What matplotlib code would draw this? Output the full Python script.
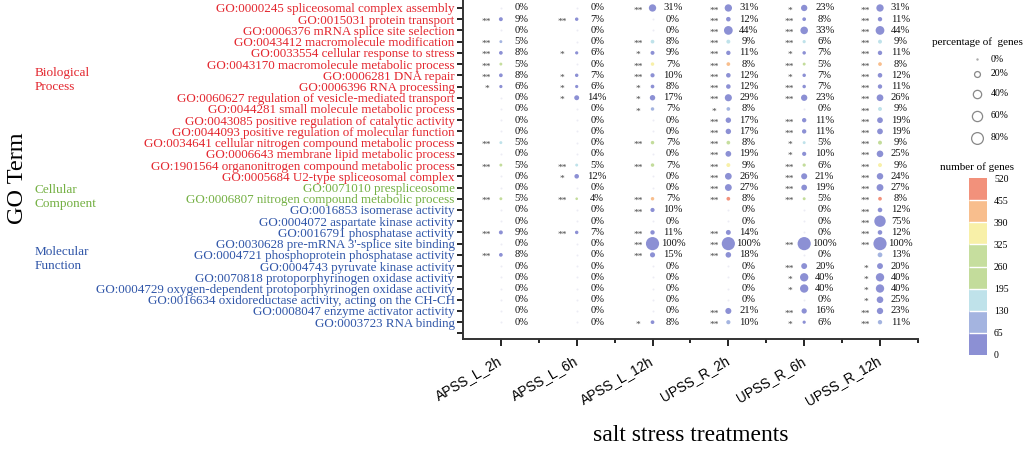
import numpy as np
import matplotlib
matplotlib.use('Agg')
import matplotlib.pyplot as plt
import matplotlib as mpl
from matplotlib.colors import ListedColormap, BoundaryNorm

plt.rcParams['font.family'] = ['Liberation Serif', 'DejaVu Serif']

treatments = ['APSS_L_2h', 'APSS_L_6h', 'APSS_L_12h', 'UPSS_R_2h', 'UPSS_R_6h', 'UPSS_R_12h']

terms = [
    'GO:0000245 spliceosomal complex assembly',
    'GO:0015031 protein transport',
    'GO:0006376 mRNA splice site selection',
    'GO:0043412 macromolecule modification',
    'GO:0033554 cellular response to stress',
    'GO:0043170 macromolecule metabolic process',
    'GO:0006281 DNA repair',
    'GO:0006396 RNA processing',
    'GO:0060627 regulation of vesicle-mediated transport',
    'GO:0044281 small molecule metabolic process',
    'GO:0043085 positive regulation of catalytic activity',
    'GO:0044093 positive regulation of molecular function',
    'GO:0034641 cellular nitrogen compound metabolic process',
    'GO:0006643 membrane lipid metabolic process',
    'GO:1901564 organonitrogen compound metabolic process',
    'GO:0005684 U2-type spliceosomal complex',
    'GO:0071010 prespliceosome',
    'GO:0006807 nitrogen compound metabolic process',
    'GO:0016853 isomerase activity',
    'GO:0004072 aspartate kinase activity',
    'GO:0016791 phosphatase activity',
    "GO:0030628 pre-mRNA 3'-splice site binding",
    'GO:0004721 phosphoprotein phosphatase activity',
    'GO:0004743 pyruvate kinase activity',
    'GO:0070818 protoporphyrinogen oxidase activity',
    'GO:0004729 oxygen-dependent protoporphyrinogen oxidase activity',
    'GO:0016634 oxidoreductase activity, acting on the CH-CH',
    'GO:0008047 enzyme activator activity',
    'GO:0003723 RNA binding',
]
term_group = ['BP'] * 16 + ['CC'] * 2 + ['MF'] * 11
group_names = {'BP': 'Biological\nProcess', 'CC': 'Cellular\nComponent', 'MF': 'Molecular\nFunction'}
group_colors = {'BP': '#e3262e', 'CC': '#74b043', 'MF': '#2f55a8'}

# percentage of genes per term (rows) and treatment (columns)
pct = [
    [0, 0, 31, 31, 23, 31],
    [9, 7, 0, 12, 8, 11],
    [0, 0, 0, 44, 33, 44],
    [5, 0, 8, 9, 6, 9],
    [8, 6, 9, 11, 7, 11],
    [5, 0, 7, 8, 5, 8],
    [8, 7, 10, 12, 7, 12],
    [6, 6, 8, 12, 7, 11],
    [0, 14, 17, 29, 23, 26],
    [0, 0, 7, 8, 0, 9],
    [0, 0, 0, 17, 11, 19],
    [0, 0, 0, 17, 11, 19],
    [5, 0, 7, 8, 5, 9],
    [0, 0, 0, 19, 10, 25],
    [5, 5, 7, 9, 6, 9],
    [0, 12, 0, 26, 21, 24],
    [0, 0, 0, 27, 19, 27],
    [5, 4, 7, 8, 5, 8],
    [0, 0, 10, 0, 0, 12],
    [0, 0, 0, 0, 0, 75],
    [9, 7, 11, 14, 0, 12],
    [0, 0, 100, 100, 100, 100],
    [8, 0, 15, 18, 0, 13],
    [0, 0, 0, 0, 20, 20],
    [0, 0, 0, 0, 40, 40],
    [0, 0, 0, 0, 40, 40],
    [0, 0, 0, 0, 0, 25],
    [0, 0, 0, 21, 16, 23],
    [0, 0, 8, 10, 6, 11],
]

stars = [
    ['', '', '**', '**', '*', '**'],
    ['**', '**', '', '**', '**', '**'],
    ['', '', '', '**', '**', '**'],
    ['**', '', '**', '**', '**', '**'],
    ['**', '*', '*', '**', '*', '**'],
    ['**', '', '**', '**', '**', '**'],
    ['**', '*', '**', '**', '*', '**'],
    ['*', '*', '*', '**', '**', '**'],
    ['', '*', '*', '**', '**', '**'],
    ['', '', '*', '*', '', '**'],
    ['', '', '', '**', '**', '**'],
    ['', '', '', '**', '**', '**'],
    ['**', '', '**', '**', '*', '**'],
    ['', '', '', '**', '*', '**'],
    ['**', '**', '**', '**', '**', '**'],
    ['', '*', '', '**', '**', '**'],
    ['', '', '', '**', '**', '**'],
    ['**', '**', '**', '**', '**', '**'],
    ['', '', '**', '', '', '**'],
    ['', '', '', '', '', '**'],
    ['**', '**', '**', '**', '', '**'],
    ['', '', '**', '**', '**', '**'],
    ['**', '', '**', '**', '', ''],
    ['', '', '', '', '**', '*'],
    ['', '', '', '', '*', '*'],
    ['', '', '', '', '*', '*'],
    ['', '', '', '', '', '*'],
    ['', '', '', '**', '**', '**'],
    ['', '', '*', '**', '*', '**'],
]

# number of genes (estimated from colour bins)
genes = [
    [0, 0, 30, 30, 30, 30],
    [30, 30, 0, 30, 30, 30],
    [0, 0, 0, 30, 30, 30],
    [100, 0, 160, 160, 160, 160],
    [30, 30, 30, 30, 30, 30],
    [290, 0, 350, 420, 230, 420],
    [30, 30, 30, 30, 30, 30],
    [30, 30, 30, 30, 30, 30],
    [0, 30, 30, 30, 30, 30],
    [0, 0, 100, 100, 0, 160],
    [0, 0, 0, 30, 30, 30],
    [0, 0, 0, 30, 30, 30],
    [160, 0, 230, 290, 160, 230],
    [0, 0, 0, 30, 30, 30],
    [230, 160, 230, 350, 230, 350],
    [0, 30, 0, 30, 30, 30],
    [0, 0, 0, 30, 30, 30],
    [230, 230, 420, 490, 230, 490],
    [0, 0, 30, 0, 0, 30],
    [0, 0, 0, 0, 0, 30],
    [30, 30, 30, 30, 0, 30],
    [0, 0, 30, 30, 30, 30],
    [30, 0, 30, 30, 0, 100],
    [0, 0, 0, 0, 30, 30],
    [0, 0, 0, 0, 30, 30],
    [0, 0, 0, 0, 30, 30],
    [0, 0, 0, 0, 0, 30],
    [0, 0, 0, 30, 30, 30],
    [0, 0, 30, 100, 30, 100],
]

gene_bins = [0, 65, 130, 195, 260, 325, 390, 455, 520]
bin_colors = ['#8c90d4', '#a4b4e0', '#bfe2ea', '#c3dc9b', '#c6de9e', '#f8f0a8', '#f8be8d', '#f2917b']
legend_pcts = [0, 20, 40, 60, 80]

SIZE_K = 0.9  # points^2 per percent

fig = plt.figure(figsize=(10.24, 4.51), dpi=100)
ax = fig.add_axes([0.4521, 0.2483, 0.4443, 0.7517])

P = np.array(pct)
G = np.array(genes)
nr, nc = P.shape
yy, xx = np.mgrid[0:nr, 0:nc]
cmap = ListedColormap(bin_colors)
norm = BoundaryNorm(gene_bins, cmap.N)
m = P > 0
ax.scatter(xx[m], yy[m], s=P[m] * SIZE_K, c=G[m], cmap=cmap, norm=norm, linewidths=0, zorder=3)
ax.scatter(xx[~m], yy[~m], s=2, color='#ececf4', linewidths=0, zorder=2)

for i in range(nr):
    for j in range(nc):
        ax.text(j + 0.27, i, f'{P[i, j]}%', ha='center', va='center', fontsize=7.6, color='#111111')
        if stars[i][j]:
            ax.text(j - 0.19, i + 0.22, stars[i][j], ha='center', va='center', fontsize=6.8,
                    color='#444444')

ax.set_xlim(-0.5, nc - 0.5)
ax.set_ylim(nr + 0.5, -0.71)
ax.set_xticks(range(nc))
ax.set_xticks(np.arange(0.5, nc, 1), minor=True)
ax.set_xticklabels(treatments, rotation=30, ha='right', va='center', rotation_mode='anchor',
                   family=['Liberation Sans', 'DejaVu Sans'], fontsize=9.8)
ax.set_yticks(range(nr + 1))
ax.set_yticklabels(terms + [''], fontsize=9.4)
for lab, g in zip(ax.get_yticklabels(), term_group):
    lab.set_color(group_colors[g])
for s in ['top', 'right']:
    ax.spines[s].set_visible(False)
for s in ['left', 'bottom']:
    ax.spines[s].set_linewidth(1.4)
    ax.spines[s].set_color('#333333')
ax.tick_params(axis='y', length=4, width=1.2, pad=2)
ax.tick_params(axis='x', which='major', length=5, width=1.2, pad=10)
ax.tick_params(axis='x', which='minor', length=3, width=1.2)

ax.set_xlabel('salt stress treatments', fontsize=17, labelpad=12)
fig.text(0.017, 0.605, 'GO Term', rotation=90, ha='center', va='center', fontsize=17.5)

group_y = {'BP': 0.823, 'CC': 0.563, 'MF': 0.426}
for g in ['BP', 'CC', 'MF']:
    fig.text(0.034, group_y[g], group_names[g], ha='left', va='center', fontsize=9.5,
             color=group_colors[g], linespacing=1.25)

# size legend
lax = fig.add_axes([0, 0, 1, 1])
lax.set_xlim(0, 1024)
lax.set_ylim(451, 0)
lax.axis('off')
lax.text(977, 42, 'percentage of  genes', ha='center', va='center', fontsize=8)
leg_y = [59, 74, 94, 116, 138]
for p, yv in zip(legend_pcts, leg_y):
    if p == 0:
        lax.scatter([977], [yv], s=3, color='#aaaaaa', linewidths=0)
    else:
        lax.scatter([977], [yv], s=p * SIZE_K, facecolor='white', edgecolor='#888888', linewidths=0.9)
    lax.text(991, yv, f'{p}%', ha='left', va='center', fontsize=7)
lax.text(977, 167, 'number of genes', ha='center', va='center', fontsize=8)

cax = fig.add_axes([0.9463, 0.2129, 0.0176, 0.392])
cb = mpl.colorbar.ColorbarBase(cax, cmap=cmap, norm=norm, boundaries=gene_bins, ticks=gene_bins,
                               drawedges=True)
cb.outline.set_visible(False)
cb.dividers.set_color('white')
cb.dividers.set_linewidth(1)
cax.tick_params(length=0, labelsize=7, pad=5)

fig.savefig('out.png', dpi=100)
